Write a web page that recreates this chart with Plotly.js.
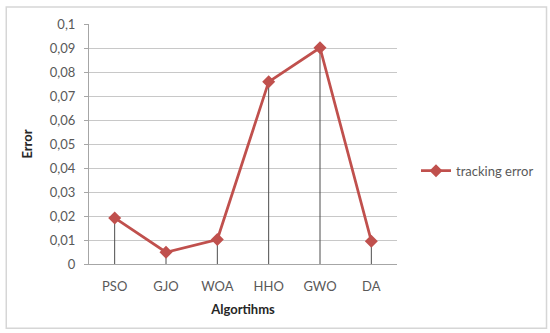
<!DOCTYPE html>
<html>
<head>
<meta charset="utf-8">
<script src="https://cdn.plot.ly/plotly-3.0.1.min.js"></script>
<style>
  html, body { margin: 0; padding: 0; background: #fff; }
  #chart { width: 550px; height: 333px; }
</style>
</head>
<body>
<div id="chart"></div>
<script>
// Data
const categories = ["PSO", "GJO", "WOA", "HHO", "GWO", "DA"];
const trackingError = [0.0192, 0.0049, 0.0102, 0.0759, 0.0901, 0.0095];
const seriesName = "tracking error";
const xTitle = "Algortihms";
const yTitle = "Error";

const W = 550, H = 333;
const m = { l: 89, r: 152, t: 24, b: 68.5 };
const pw = W - m.l - m.r, ph = H - m.t - m.b;
const px = v => (v - m.l) / pw;
const py = v => (H - m.b - v) / ph;

const font = "Lato, 'Open Sans', sans-serif";

const trace = {
  type: "scatter",
  mode: "lines+markers",
  x: categories,
  y: trackingError,
  name: seriesName,
  line: { color: "#C0504D", width: 2.75 },
  marker: { symbol: "diamond", size: 10, color: "#C0504D" },
  error_y: {
    type: "data",
    symmetric: false,
    array: trackingError.map(() => 0),
    arrayminus: trackingError,
    color: "#4d4d4d",
    thickness: 1,
    width: 0
  }
};

const layout = {
  width: W, height: H,
  margin: m,
  paper_bgcolor: "#fff",
  plot_bgcolor: "#fff",
  separators: ", ",
  font: { family: font, size: 13, color: "#595959" },
  showlegend: true,
  legend: {
    x: px(416), y: py(171), xanchor: "left", yanchor: "middle",
    itemwidth: 30,
    font: { family: font, size: 13, color: "#595959" },
    bgcolor: "rgba(0,0,0,0)"
  },
  xaxis: {
    type: "category",
    range: [-0.5, categories.length - 0.5],
    showgrid: false,
    showline: true, linecolor: "#a6a6a6", linewidth: 1,
    ticks: "", ticklabelstandoff: 10,
    tickfont: { family: font, size: 13, color: "#595959" },
    title: { text: "<b>" + xTitle + "</b>", standoff: 12, font: { family: font, size: 13, color: "#262626" } },
    fixedrange: true
  },
  yaxis: {
    range: [0, 0.1],
    dtick: 0.01,
    tickformat: ".2~f",
    showgrid: true, gridcolor: "#c8c8c8", gridwidth: 1,
    showline: true, linecolor: "#a6a6a6", linewidth: 1,
    zeroline: false,
    ticks: "outside", ticklen: 4, tickcolor: "#a6a6a6",
    ticklabelstandoff: 6,
    tickfont: { family: font, size: 13, color: "#595959" },
    title: { text: "<b>" + yTitle + "</b>", standoff: 14, font: { family: font, size: 13, color: "#262626" } },
    fixedrange: true
  },
  shapes: [{
    type: "rect", xref: "paper", yref: "paper",
    x0: px(6), x1: px(548), y0: py(329), y1: py(7),
    line: { color: "#d6d6d6", width: 1.5 },
    fillcolor: "rgba(0,0,0,0)",
    layer: "below"
  }]
};

Plotly.newPlot("chart", [trace], layout, { staticPlot: true, displayModeBar: false });
</script>
</body>
</html>
